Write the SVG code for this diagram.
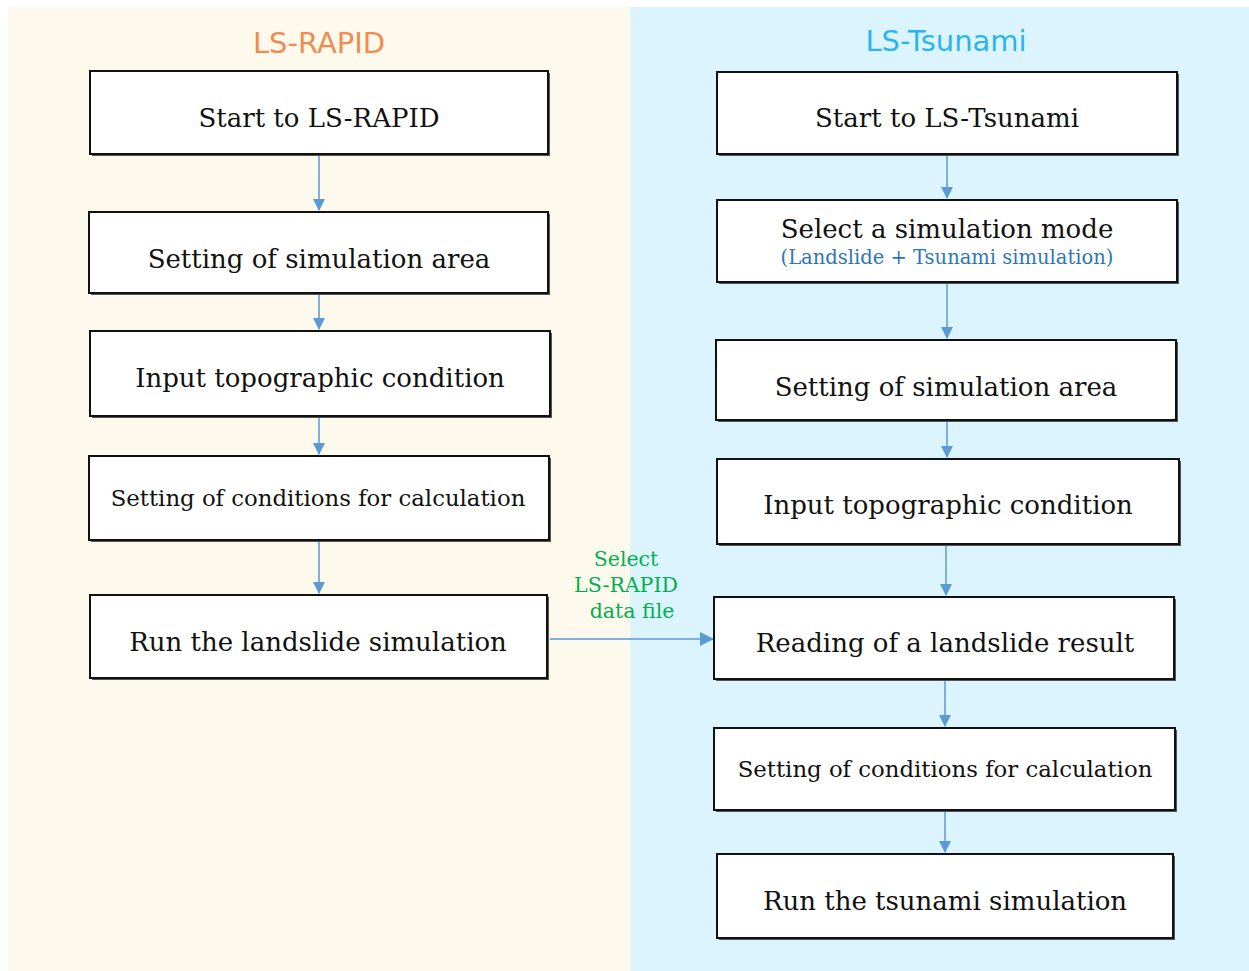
<svg xmlns="http://www.w3.org/2000/svg" width="1249" height="971" viewBox="0 0 1249 971">
<style>
.box{fill:#fff;stroke:#111;stroke-width:2}
.sh{fill:#555}
.t{font-family:"DejaVu Serif",serif;font-size:26px;fill:#111;text-anchor:middle}
.ts{font-family:"DejaVu Serif",serif;font-size:22.8px;fill:#111;text-anchor:middle}
.sub{font-family:"DejaVu Serif",serif;font-size:19.5px;fill:#2e75b6;text-anchor:middle}
.hd{font-family:"DejaVu Sans",sans-serif;font-size:29px;text-anchor:middle}
.g{font-family:"DejaVu Serif",serif;font-size:20.5px;fill:#00b050;text-anchor:middle}
.c{stroke:#7fb0e0;stroke-width:2;fill:none}
</style>
<defs>
<marker id="ah" markerWidth="12" markerHeight="12" refX="11" refY="6" orient="auto" markerUnits="userSpaceOnUse">
<path d="M0,0 L12,6 L0,12 Z" fill="#5b9bd5"/>
</marker>
<marker id="ah2" markerWidth="14" markerHeight="14" refX="13" refY="7" orient="auto" markerUnits="userSpaceOnUse">
<path d="M0,0 L14,7 L0,14 Z" fill="#5b9bd5"/>
</marker>
</defs>
<rect x="0" y="0" width="1249" height="971" fill="#fff"/>
<rect x="8" y="7" width="622" height="964" fill="#fef9ed"/>
<rect x="630" y="7" width="619" height="964" fill="#dcf4fd"/>
<text class="hd" x="319" y="53" fill="#f08c50">LS-RAPID</text>
<text class="hd" x="946" y="51" fill="#2ab4f0">LS-Tsunami</text>

<g id="connectors">
<line class="c" x1="319" y1="156" x2="319" y2="210" marker-end="url(#ah)"/>
<line class="c" x1="319" y1="295" x2="319" y2="329" marker-end="url(#ah)"/>
<line class="c" x1="319" y1="418" x2="319" y2="454" marker-end="url(#ah)"/>
<line class="c" x1="319" y1="542" x2="319" y2="593" marker-end="url(#ah)"/>
<line class="c" x1="947" y1="156" x2="947" y2="198" marker-end="url(#ah)"/>
<line class="c" x1="947" y1="284" x2="947" y2="338" marker-end="url(#ah)"/>
<line class="c" x1="947" y1="422" x2="947" y2="457" marker-end="url(#ah)"/>
<line class="c" x1="946" y1="546" x2="946" y2="595" marker-end="url(#ah)"/>
<line class="c" x1="945" y1="681" x2="945" y2="726" marker-end="url(#ah)"/>
<line class="c" x1="945" y1="812" x2="945" y2="852" marker-end="url(#ah)"/>
<line class="c" x1="550" y1="639" x2="713" y2="639" marker-end="url(#ah2)"/>
<text class="g" x="626" y="566">Select</text>
<text class="g" x="626" y="592">LS-RAPID</text>
<text class="g" x="632" y="618">data file</text>
</g>

<g id="l1"><rect class="sh" x="92" y="73" width="458" height="83"/><rect class="box" x="90" y="71" width="458" height="83"/><text class="t" x="319" y="127">Start to LS-RAPID</text></g>
<g id="l2"><rect class="sh" x="91" y="214" width="459" height="81"/><rect class="box" x="89" y="212" width="459" height="81"/><text class="t" x="319" y="268">Setting of simulation area</text></g>
<g id="l3"><rect class="sh" x="92" y="333" width="460" height="85"/><rect class="box" x="90" y="331" width="460" height="85"/><text class="t" x="320" y="387">Input topographic condition</text></g>
<g id="l4"><rect class="sh" x="91" y="458" width="460" height="84"/><rect class="box" x="89" y="456" width="460" height="84"/><text class="ts" x="318" y="506">Setting of conditions for calculation</text></g>
<g id="l5"><rect class="sh" x="92" y="597" width="457" height="83"/><rect class="box" x="90" y="595" width="457" height="83"/><text class="t" x="318" y="651">Run the landslide simulation</text></g>

<g id="r1"><rect class="sh" x="719" y="74" width="460" height="82"/><rect class="box" x="717" y="72" width="460" height="82"/><text class="t" x="947" y="127">Start to LS-Tsunami</text></g>
<g id="r2"><rect class="sh" x="719" y="202" width="460" height="82"/><rect class="box" x="717" y="200" width="460" height="82"/><text class="t" x="947" y="238">Select a simulation mode</text><text class="sub" x="947" y="264">(Landslide + Tsunami simulation)</text></g>
<g id="r3"><rect class="sh" x="718" y="342" width="460" height="80"/><rect class="box" x="716" y="340" width="460" height="80"/><text class="t" x="946" y="396">Setting of simulation area</text></g>
<g id="r4"><rect class="sh" x="719" y="461" width="462" height="85"/><rect class="box" x="717" y="459" width="462" height="85"/><text class="t" x="948" y="514">Input topographic condition</text></g>
<g id="r5"><rect class="sh" x="716" y="599" width="460" height="82"/><rect class="box" x="714" y="597" width="460" height="82"/><text class="t" x="945" y="652">Reading of a landslide result</text></g>
<g id="r6"><rect class="sh" x="716" y="730" width="461" height="82"/><rect class="box" x="714" y="728" width="461" height="82"/><text class="ts" x="945" y="777">Setting of conditions for calculation</text></g>
<g id="r7"><rect class="sh" x="719" y="856" width="456" height="84"/><rect class="box" x="717" y="854" width="456" height="84"/><text class="t" x="945" y="910">Run the tsunami simulation</text></g>
</svg>
